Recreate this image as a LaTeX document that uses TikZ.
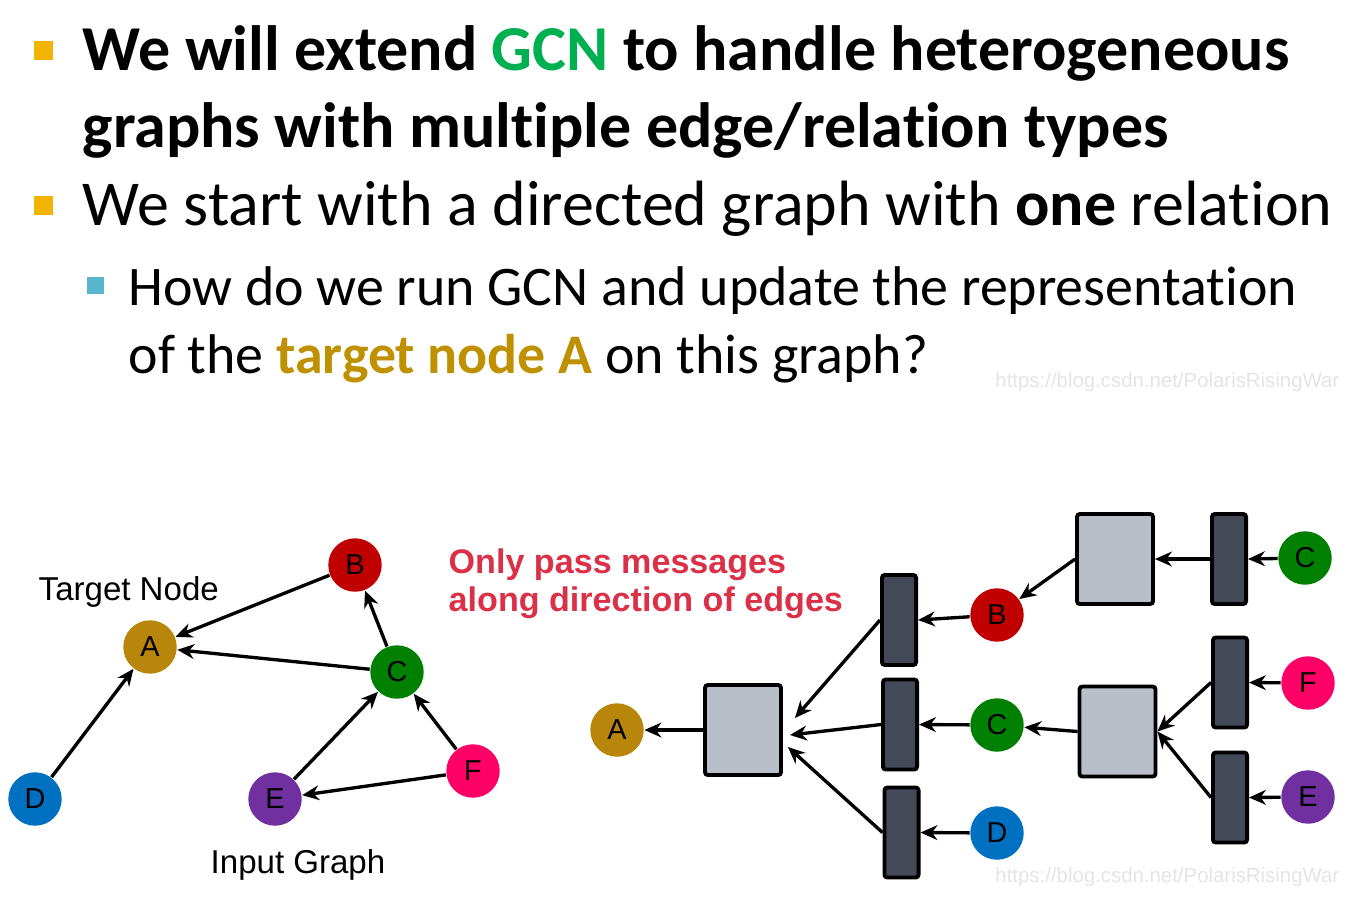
\documentclass[tikz,border=0pt]{standalone}
\usepackage{fontspec}
\setmainfont[Ligatures={NoCommon,NoContextual},Contextuals=NoAlternate]{Carlito}
\newfontfamily\arialfont{Liberation Sans}
\usepackage{xcolor}
\usetikzlibrary{arrows.meta}

\definecolor{bulletorange}{RGB}{242,180,0}
\definecolor{bulletblue}{RGB}{91,180,205}
\definecolor{gcngreen}{RGB}{0,176,80}
\definecolor{targetgold}{RGB}{191,144,0}
\definecolor{msgred}{RGB}{218,48,72}
\definecolor{nodeA}{RGB}{184,134,11}
\definecolor{nodeB}{RGB}{192,0,0}
\definecolor{nodeC}{RGB}{0,128,0}
\definecolor{nodeD}{RGB}{0,112,192}
\definecolor{nodeE}{RGB}{112,48,160}
\definecolor{nodeF}{RGB}{255,0,102}
\definecolor{aggfill}{RGB}{185,191,201}
\definecolor{barfill}{RGB}{67,73,87}
\definecolor{wmgray}{RGB}{228,228,228}

\begin{document}
\begin{tikzpicture}[x=0.01cm,y=-0.01cm,>={Stealth[length=4.8pt,width=4.2pt]},
  vtx/.style={circle,inner sep=0pt,minimum size=15.2pt,font=\arialfont\fontsize{8.2}{8}\selectfont},
  aggbox/.style={draw=black,line width=1.1pt,fill=aggfill,rounded corners=0.8pt,minimum width=21.6pt,minimum height=25.6pt,inner sep=0pt},
  msgbar/.style={draw=black,line width=1.1pt,fill=barfill,rounded corners=0.8pt,minimum width=9.7pt,minimum height=25.6pt,inner sep=0pt},
  edge/.style={->,line width=0.95pt},
  bigline/.style={anchor=base west,inner sep=0pt,font=\fontsize{18.2}{20}\selectfont},
  subline/.style={anchor=base west,inner sep=0pt,font=\fontsize{15.9}{18}\selectfont},
  lbl/.style={anchor=base west,inner sep=0pt,font=\arialfont\fontsize{9.4}{11}\selectfont}]
  \useasboundingbox (0,0) rectangle (1364,911);

  % bullets and text
  \node[fill=bulletorange,minimum size=5.4pt,inner sep=0pt] (b1) at (43.5,50.5) {};
  \node[fill=bulletorange,minimum size=5.4pt,inner sep=0pt] (b2) at (43.5,205) {};
  \node[fill=bulletblue,minimum size=4.8pt,inner sep=0pt] (b3) at (95.5,285.5) {};
  \node[bigline] (t1) at (82,70) {\bfseries We will extend \textcolor{gcngreen}{GCN} to handle heterogeneous};
  \node[bigline] (t2) at (82,147) {\bfseries graphs with multiple edge/relation types};
  \node[bigline] (t3) at (82,225) {We start with a directed graph with \textbf{one} relation};
  \node[subline] (t4) at (128,305) {How do we run GCN and update the representation};
  \node[subline] (t5) at (128,373) {of the \textcolor{targetgold}{\bfseries target node A} on this graph?};
  \node[anchor=base east,inner sep=0pt,text=wmgray,font=\arialfont\fontsize{5.8}{7}\selectfont] (wm1) at (1340,387) {https://blog.csdn.net/PolarisRisingWar};
  \node[anchor=base east,inner sep=0pt,text=wmgray,font=\arialfont\fontsize{5.8}{7}\selectfont] (wm2) at (1340,882) {https://blog.csdn.net/PolarisRisingWar};

  % input graph
  \node[vtx,fill=nodeA] (A) at (150,647) {A};
  \node[vtx,fill=nodeB] (B) at (355,565) {B};
  \node[vtx,fill=nodeC] (C) at (397,672) {C};
  \node[vtx,fill=nodeD] (D) at (35,799) {D};
  \node[vtx,fill=nodeE] (E) at (275,799) {E};
  \node[vtx,fill=nodeF] (F) at (473,771) {F};
  \node[lbl] (target) at (38,600) {Target Node};
  \node[lbl] (input) at (210,873) {Input Graph};
  \draw[edge] (B) -- (A);
  \draw[edge] (C) -- (A);
  \draw[edge] (D) -- (A);
  \draw[edge] (C) -- (B);
  \draw[edge] (E) -- (C);
  \draw[edge] (F) -- (C);
  \draw[edge] (F) -- (E);

  \node[anchor=base west,inner sep=0pt,align=left,text=msgred,font=\arialfont\bfseries\fontsize{9.7}{10.8}\selectfont] (msg) at (448,611) {Only pass messages\\along direction of edges};

  % computation graph
  \node[vtx,fill=nodeA] (rA) at (617,730) {A};
  \node[aggbox] (agg1) at (743,730) {};
  \node[msgbar] (bar1) at (899,620) {};
  \node[msgbar] (bar2) at (900,724.5) {};
  \node[msgbar] (bar3) at (901.5,832.5) {};
  \node[vtx,fill=nodeB] (rB) at (997,615) {B};
  \node[vtx,fill=nodeC] (rC) at (997,725) {C};
  \node[vtx,fill=nodeD] (rD) at (997,833) {D};
  \node[aggbox] (agg2) at (1115,559) {};
  \node[msgbar] (bar4) at (1229,559) {};
  \node[vtx,fill=nodeC] (rC2) at (1305,558) {C};
  \node[aggbox] (agg3) at (1117.5,731.5) {};
  \node[msgbar] (bar5) at (1230,682.5) {};
  \node[msgbar] (bar6) at (1230,797.5) {};
  \node[vtx,fill=nodeF] (rF) at (1308,683) {F};
  \node[vtx,fill=nodeE] (rE) at (1308,797) {E};
  \coordinate (in1) at ([shift={(12,-12)}]agg1.east);
  \coordinate (in2) at ([shift={(7,5)}]agg1.east);
  \coordinate (in3) at ([shift={(5,17)}]agg1.east);

  \draw[edge] (agg1.west) -- (rA);
  \draw[edge] (bar1.west) -- (in1);
  \draw[edge] (bar2.west) -- (in2);
  \draw[edge] (bar3.west) -- (in3);
  \draw[edge] (rB) -- (bar1.east);
  \draw[edge] (rC) -- (bar2.east);
  \draw[edge] (rD) -- (bar3.east);
  \draw[edge] (agg2.west) -- (rB);
  \draw[edge] (bar4.west) -- (agg2.east);
  \draw[edge] (rC2) -- (bar4.east);
  \draw[edge] (agg3.west) -- (rC);
  \draw[edge] (bar5.west) -- (agg3.east);
  \draw[edge] (bar6.west) -- (agg3.east);
  \draw[edge] (rF) -- (bar5.east);
  \draw[edge] (rE) -- (bar6.east);
\end{tikzpicture}
\end{document}
